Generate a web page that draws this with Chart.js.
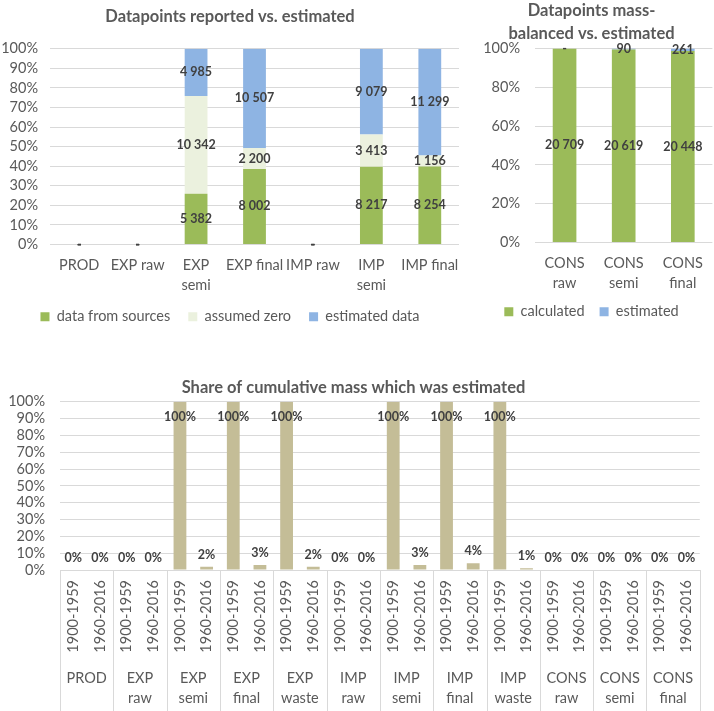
<!DOCTYPE html>
<html>
<head>
<meta charset="utf-8">
<script src="https://cdn.jsdelivr.net/npm/chart.js@4.4.0/dist/chart.umd.min.js"></script>
<style>
  body { margin: 0; background: #fff; }
  .box { position: absolute; }
</style>
</head>
<body>
<div class="box" style="left:0;top:0;width:470px;height:334px"><canvas id="chartA"></canvas></div>
<div class="box" style="left:470px;top:0;width:244px;height:329px"><canvas id="chartB"></canvas></div>
<div class="box" style="left:0;top:370px;width:714px;height:341px"><canvas id="chartC"></canvas></div>
<script>
// top left: datapoints reported vs. estimated
const flowLabels = ['PROD', 'EXP raw', ['EXP', 'semi'], 'EXP final', 'IMP raw', ['IMP', 'semi'], 'IMP final'];
const fromSources = [0, 0, 5382, 8002, 0, 8217, 8254];
const assumedZero = [0, 0, 10342, 2200, 0, 3413, 1156];
const estimatedData = [0, 0, 4985, 10507, 0, 9079, 11299];

// top right: mass-balanced vs. estimated
const consLabels = [['CONS', 'raw'], ['CONS', 'semi'], ['CONS', 'final']];
const calculated = [20709, 20619, 20448];
const estimatedCons = [0, 90, 261];

// bottom: share of cumulative mass estimated (%)
const periods = ['1900-1959', '1960-2016'];
const groupLabels = ['PROD', ['EXP', 'raw'], ['EXP', 'semi'], ['EXP', 'final'], ['EXP', 'waste'],
  ['IMP', 'raw'], ['IMP', 'semi'], ['IMP', 'final'], ['IMP', 'waste'],
  ['CONS', 'raw'], ['CONS', 'semi'], ['CONS', 'final']];
const shareEstimated = [0, 0, 0, 0, 100, 2, 100, 3, 100, 2, 0, 0, 100, 3, 100, 4, 100, 1, 0, 0, 0, 0, 0, 0];

const grey = '#595959';
const gridGrey = '#d9d9d9';
const fontSize = 14.5;
Chart.defaults.font.family = 'Lato, Carlito, Calibri, sans-serif';
Chart.defaults.color = grey;

// percent of column total, for the 100% stacks
function share(series, all) {
    return series.map((v, i) => {
        let total = all.reduce((s, arr) => s + arr[i], 0);
        return total ? v / total * 100 : 0;
    });
}

const fmt = n => n.toString().replace(/\B(?=(\d{3})+(?!\d))/g, ' ');

// counts written in the middle of each stacked segment, "-" for zero
const countLabels = {
    id: 'countLabels',
    afterDatasetsDraw(chart) {
        const ctx = chart.ctx;
        ctx.save();
        ctx.font = 'bold 12.5px Lato, sans-serif';
        ctx.fillStyle = '#404040';
        ctx.textAlign = 'center';
        ctx.textBaseline = 'middle';
        chart.data.datasets.forEach((ds, i) => {
            chart.getDatasetMeta(i).data.forEach((bar, j) => {
                let n = ds.counts[j];
                let y = n ? (bar.y + bar.base) / 2 : bar.base;
                ctx.fillText(n ? fmt(n) : '-', bar.x, y);
            });
        });
        ctx.restore();
    }
};

function yPercent(step, width, pad) {
    return {
        stacked: true, min: 0, max: 100,
        grid: { color: gridGrey, drawTicks: false },
        border: { display: false },
        ticks: { stepSize: step, autoSkip: false, padding: pad, font: { size: fontSize }, callback: v => v + '%' },
        afterFit: s => { s.width = width; }
    };
}

function xCategories(height) {
    return {
        stacked: true,
        grid: { display: false, drawTicks: false },
        border: { display: false },
        ticks: { padding: 11, maxRotation: 0, autoSkip: false, font: { size: fontSize, lineHeight: 1.38 } },
        afterFit: s => { s.height = height; }
    };
}

function legendOpts(pad) {
    return { position: 'bottom', labels: { boxWidth: 9, boxHeight: 9, padding: pad, font: { size: fontSize } } };
}

const allFlows = [fromSources, assumedZero, estimatedData];
new Chart(document.getElementById('chartA'), {
    type: 'bar',
    data: {
        labels: flowLabels,
        datasets: [
            { label: 'data from sources', data: share(fromSources, allFlows), counts: fromSources, backgroundColor: '#9bbb59' },
            { label: 'assumed zero', data: share(assumedZero, allFlows), counts: assumedZero, backgroundColor: '#ebf1de' },
            { label: 'estimated data', data: share(estimatedData, allFlows), counts: estimatedData, backgroundColor: '#8eb4e3' }
        ]
    },
    options: {
        responsive: true,
        maintainAspectRatio: false,
        animation: false,
        datasets: { bar: { barPercentage: 0.39, categoryPercentage: 1 } },
        layout: { padding: { right: 10 } },
        plugins: {
            title: { display: true, text: 'Datapoints reported vs. estimated', color: grey, font: { size: 16.5, weight: 'bold' }, padding: { top: 7, bottom: 22 } },
            legend: legendOpts(18),
            tooltip: { enabled: false }
        },
        scales: {
            x: xCategories(47),
            y: yPercent(10, 50, 12)
        }
    },
    plugins: [countLabels]
});

const allCons = [calculated, estimatedCons];
new Chart(document.getElementById('chartB'), {
    type: 'bar',
    data: {
        labels: consLabels,
        datasets: [
            { label: 'calculated', data: share(calculated, allCons), counts: calculated, backgroundColor: '#9bbb59' },
            { label: 'estimated', data: share(estimatedCons, allCons), counts: estimatedCons, backgroundColor: '#8eb4e3' }
        ]
    },
    options: {
        responsive: true,
        maintainAspectRatio: false,
        animation: false,
        datasets: { bar: { barPercentage: 0.4, categoryPercentage: 1 } },
        layout: { padding: { right: 1 } },
        plugins: {
            title: { display: true, text: ['Datapoints mass-', 'balanced vs. estimated'], color: grey, font: { size: 16.5, weight: 'bold', lineHeight: 1.35 }, padding: { top: 0, bottom: 4 } },
            legend: legendOpts(15),
            tooltip: { enabled: false }
        },
        scales: {
            x: xCategories(47),
            y: yPercent(20, 65, 15)
        }
    },
    plugins: [countLabels]
});

// percent above each bar, kept inside the plot for the 100% bars
const shareLabels = {
    id: 'shareLabels',
    afterDatasetsDraw(chart) {
        const ctx = chart.ctx;
        const area = chart.chartArea;
        ctx.save();
        ctx.font = 'bold 12.5px Lato, sans-serif';
        ctx.fillStyle = '#404040';
        ctx.textAlign = 'center';
        ctx.textBaseline = 'middle';
        chart.getDatasetMeta(0).data.forEach((bar, j) => {
            let y = Math.max(bar.y - 12, area.top + 15);
            ctx.fillText(shareEstimated[j] + '%', bar.x, y);
        });
        ctx.restore();
    }
};

// vertical separators between the groups of the two-level axis
const groupLines = {
    id: 'groupLines',
    afterDraw(chart) {
        const g = chart.scales.x2;
        const ctx = chart.ctx;
        const w = g.getPixelForValue(1) - g.getPixelForValue(0);
        const start = g.getPixelForValue(0) - w / 2;
        ctx.save();
        ctx.strokeStyle = gridGrey;
        ctx.lineWidth = 1;
        for (let i = 0; i <= groupLabels.length; i++) {
            let x = Math.round(start + i * w) + 0.5;
            ctx.beginPath();
            ctx.moveTo(x, chart.chartArea.bottom);
            ctx.lineTo(x, chart.height);
            ctx.stroke();
        }
        ctx.restore();
    }
};

const periodLabels = groupLabels.flatMap(() => periods);
new Chart(document.getElementById('chartC'), {
    type: 'bar',
    data: {
        labels: periodLabels,
        datasets: [
            { label: 'share estimated', data: shareEstimated, backgroundColor: '#c4bd97', xAxisID: 'x' }
        ]
    },
    options: {
        responsive: true,
        maintainAspectRatio: false,
        animation: false,
        datasets: { bar: { barPercentage: 0.48, categoryPercentage: 1 } },
        layout: { padding: { right: 7 } },
        plugins: {
            title: { display: true, text: 'Share of cumulative mass which was estimated', color: grey, font: { size: 16.5, weight: 'bold' }, padding: { top: 8, bottom: 4 } },
            legend: { display: false },
            tooltip: { enabled: false }
        },
        scales: {
            x: {
                grid: { display: false, drawTicks: false },
                border: { display: true, color: gridGrey },
                ticks: { padding: 10, minRotation: 90, maxRotation: 90, autoSkip: false, font: { size: fontSize } },
                afterFit: s => { s.height = 90; }
            },
            x2: {
                type: 'category',
                position: 'bottom',
                labels: groupLabels,
                offset: true,
                grid: { display: false, drawTicks: false },
                border: { display: false },
                ticks: { padding: 8, maxRotation: 0, autoSkip: false, font: { size: fontSize, lineHeight: 1.4 } },
                afterFit: s => { s.height = 51; }
            },
            y: {
                min: 0, max: 100,
                grid: { color: gridGrey, drawTicks: false },
                border: { display: false },
                ticks: { stepSize: 10, autoSkip: false, padding: 15, font: { size: fontSize }, callback: v => v + '%' },
                afterFit: s => { s.width = 60; }
            }
        }
    },
    plugins: [shareLabels, groupLines]
});
</script>
</body>
</html>
